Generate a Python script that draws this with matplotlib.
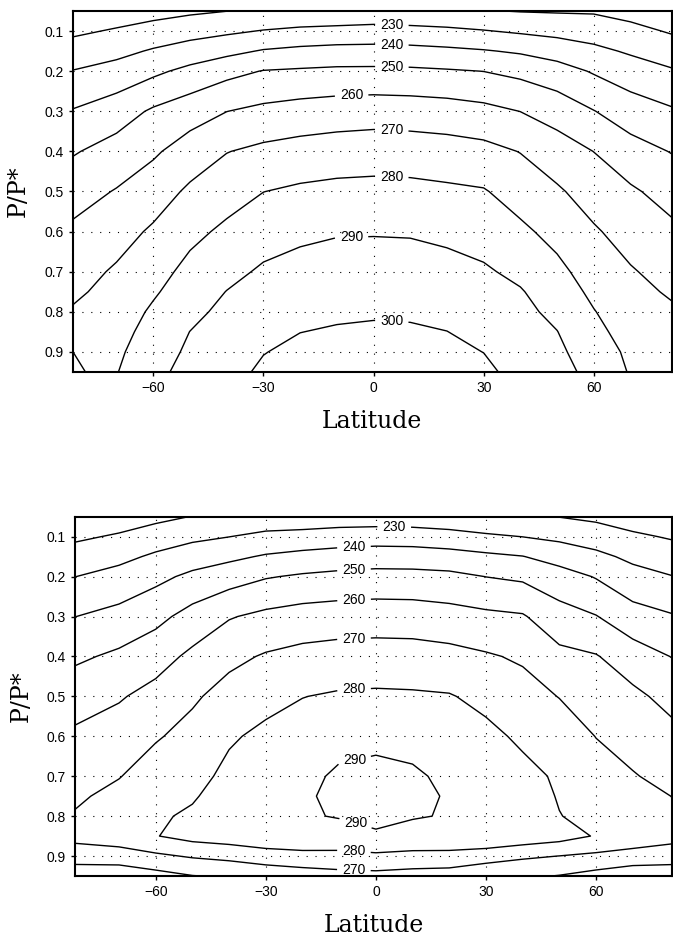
import numpy as np
import matplotlib.pyplot as plt

plt.rcParams['font.family'] = ['Liberation Sans', 'DejaVu Sans']

# grid of the zonal-mean temperature fields (K)
lats = [-82, -70, -60, -50, -40, -30, -20, -10, 0, 10, 20, 30, 40, 50, 60, 70, 82]
sigma = [0.05, 0.1, 0.15, 0.2, 0.3, 0.4, 0.5, 0.6, 0.7, 0.75, 0.8, 0.85, 0.9, 0.95]

# one row per latitude, values follow the sigma list
temp_top = [
    [213.0, 218.2, 224.3, 230.3, 240.6, 249.1, 256.0, 261.7, 266.2, 268.4, 270.8, 271.2, 269.9, 266.0],
    [214.7, 221.0, 227.3, 233.6, 245.3, 253.9, 260.6, 266.2, 271.2, 272.9, 274.7, 276.4, 278.2, 279.6],
    [216.5, 223.8, 231.0, 238.0, 251.4, 258.6, 265.2, 271.4, 276.3, 278.8, 281.5, 283.8, 285.8, 287.5],
    [218.4, 226.3, 234.3, 242.6, 255.7, 264.5, 271.7, 277.5, 282.8, 285.2, 287.6, 290.1, 291.5, 293.0],
    [219.9, 228.3, 237.4, 247.1, 259.9, 269.7, 276.0, 281.9, 287.4, 290.2, 292.3, 294.0, 295.5, 297.0],
    [221.0, 230.5, 240.8, 250.4, 262.3, 272.2, 279.9, 285.9, 291.3, 293.3, 295.4, 297.4, 299.7, 301.5],
    [222.0, 232.0, 242.4, 251.2, 263.9, 273.7, 281.6, 288.1, 293.1, 295.4, 297.6, 299.9, 302.0, 303.0],
    [222.0, 232.9, 243.3, 251.9, 265.0, 274.7, 282.6, 289.3, 294.0, 296.3, 298.6, 300.8, 302.5, 304.0],
    [223.0, 233.5, 243.4, 252.0, 265.6, 275.3, 282.9, 289.4, 294.3, 296.7, 299.1, 301.2, 302.7, 304.0],
    [222.5, 232.9, 243.0, 251.7, 265.2, 274.9, 282.7, 289.2, 294.1, 296.5, 298.9, 301.0, 302.6, 304.0],
    [222.0, 231.9, 242.0, 250.9, 264.4, 274.1, 281.7, 287.9, 293.1, 295.5, 297.8, 300.1, 302.0, 303.0],
    [220.5, 230.5, 240.7, 249.9, 262.7, 272.9, 280.7, 286.1, 291.2, 293.4, 295.5, 297.7, 299.9, 302.0],
    [219.6, 228.7, 238.8, 247.5, 259.9, 269.7, 275.9, 281.9, 287.8, 290.7, 292.5, 294.3, 295.7, 297.0],
    [219.2, 227.1, 235.9, 244.0, 256.0, 264.5, 271.3, 277.0, 282.4, 285.0, 287.6, 290.2, 291.8, 293.0],
    [219.0, 225.6, 232.3, 239.1, 250.3, 259.9, 265.7, 271.1, 275.7, 278.0, 280.4, 282.5, 285.3, 287.5],
    [216.7, 222.8, 228.8, 234.7, 245.0, 253.8, 261.4, 266.2, 270.8, 272.6, 274.5, 276.3, 278.0, 279.2],
    [213.0, 218.8, 224.8, 230.7, 240.9, 249.3, 255.9, 261.7, 266.3, 268.7, 271.0, 272.5, 274.0, 275.0],
]

temp_bottom = [
    [213.0, 218.4, 224.2, 229.9, 239.9, 248.3, 255.6, 261.7, 266.3, 268.6, 270.7, 273.4, 264.0, 254.5],
    [215.1, 221.1, 227.4, 233.4, 243.0, 251.8, 259.1, 264.5, 269.6, 272.5, 274.5, 275.9, 265.0, 253.8],
    [217.5, 224.8, 231.6, 237.5, 247.2, 256.0, 263.2, 269.1, 274.5, 276.8, 278.6, 279.6, 268.3, 256.5],
    [220.3, 227.9, 235.2, 242.1, 253.6, 262.1, 268.6, 273.1, 277.0, 279.0, 281.5, 283.5, 271.0, 259.7],
    [222.1, 229.9, 237.9, 245.6, 259.3, 267.6, 273.6, 278.9, 282.2, 284.5, 285.5, 285.2, 272.8, 261.0],
    [223.8, 232.4, 241.0, 249.3, 262.3, 270.9, 277.2, 282.0, 285.0, 286.5, 288.0, 287.5, 275.4, 263.2],
    [224.0, 233.3, 243.0, 251.2, 264.2, 272.8, 279.8, 284.0, 287.8, 288.9, 289.0, 288.5, 276.7, 265.1],
    [224.4, 234.8, 244.2, 252.5, 265.0, 273.8, 281.1, 287.2, 291.3, 291.8, 290.6, 285.8, 277.7, 266.4],
    [224.6, 235.4, 245.1, 253.2, 265.3, 274.1, 281.5, 288.2, 292.0, 292.2, 291.5, 289.2, 278.2, 267.1],
    [224.4, 235.0, 245.0, 253.0, 265.1, 273.9, 281.2, 287.0, 291.3, 292.0, 290.8, 286.0, 277.8, 265.6],
    [223.0, 233.9, 243.8, 252.4, 263.7, 273.0, 280.6, 285.0, 288.2, 289.3, 289.3, 288.7, 276.6, 265.5],
    [221.0, 231.7, 242.0, 249.9, 262.1, 271.0, 277.5, 282.3, 285.5, 286.8, 287.5, 288.3, 274.9, 261.4],
    [221.5, 229.9, 240.3, 248.3, 260.9, 268.7, 273.8, 278.4, 282.5, 283.5, 285.0, 286.6, 271.6, 261.5],
    [219.8, 227.9, 236.0, 244.3, 253.7, 262.6, 269.7, 275.4, 278.8, 279.5, 280.2, 283.9, 269.9, 259.6],
    [218.0, 225.2, 232.4, 239.4, 250.4, 260.6, 265.2, 269.8, 274.0, 276.2, 278.0, 279.3, 268.1, 256.5],
    [215.4, 221.6, 227.9, 233.4, 243.9, 254.7, 262.2, 266.4, 270.6, 272.5, 275.0, 277.2, 265.6, 253.9],
    [213.0, 218.8, 224.4, 229.9, 240.4, 249.1, 256.2, 262.1, 266.8, 269.6, 270.8, 273.4, 264.0, 254.5],
]

levels = np.arange(220, 310, 10)
lat_ticks = [-60, -30, 0, 30, 60]
sigma_ticks = [0.1, 0.2, 0.3, 0.4, 0.5, 0.6, 0.7, 0.8, 0.9]

# where the contour labels sit (lat, P/P*)
label_pos_top = [(5, 0.083), (5, 0.131), (5, 0.187), (-6, 0.251), (5, 0.339),
                 (5, 0.455), (-6, 0.609), (5, 0.819)]
label_pos_bottom = [(5, 0.075), (-6, 0.121), (-6, 0.178), (-6, 0.246), (-6, 0.348),
                    (-6, 0.474), (-6, 0.652), (-6, 0.832), (-6, 0.891), (-6, 0.936)]

fig = plt.figure(figsize=(6.73, 9.36), dpi=100)
ax1 = fig.add_axes([72.5 / 673, 1 - 372 / 936, 599.5 / 673, 361 / 936])
ax2 = fig.add_axes([75 / 673, 1 - 876 / 936, 597 / 673, 359.3 / 936])

panels = [(ax1, temp_top, label_pos_top, 81.3), (ax2, temp_bottom, label_pos_bottom, 80.7)]
for ax, temp, lpos, right in panels:
    T = np.array(temp).T
    cs = ax.contour(lats, sigma, T, levels=levels, colors='black', linewidths=1.0)
    labels = ax.clabel(cs, fmt='%d', fontsize=10, inline=True, inline_spacing=5,
                       manual=lpos)
    for t in labels:
        t.set_rotation(0)
    ax.set_xlim(-82, right)
    ax.set_ylim(0.95, 0.05)
    ax.set_xticks(lat_ticks)
    ax.set_yticks(sigma_ticks)
    ax.set_yticklabels(['%.1f' % s for s in sigma_ticks])
    ax.grid(True, color='black', linestyle=(0, (1, 7)), linewidth=0.8)
    ax.set_axisbelow(True)
    ax.tick_params(direction='out', length=3, width=1, labelsize=10, pad=3.5)
    for sp in ax.spines.values():
        sp.set_linewidth(1.5)
    ax.set_xlabel('Latitude', fontfamily='DejaVu Serif', fontsize=17, labelpad=11)
    ax.set_ylabel('P/P*', fontfamily='DejaVu Serif', fontsize=17, labelpad=10)

fig.savefig('out.png', dpi=100)
